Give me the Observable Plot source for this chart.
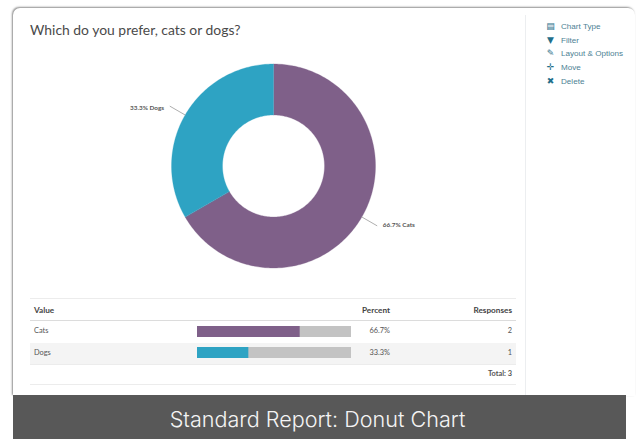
<!DOCTYPE html>
<html><head><meta charset="utf-8">
<script src="https://cdn.jsdelivr.net/npm/d3@7"></script>
<script src="https://cdn.jsdelivr.net/npm/@observablehq/plot@0.6"></script>
<style>
html,body{margin:0;padding:0;background:#fff;width:637px;height:439px;overflow:hidden;font-family:Lato,sans-serif}
.abs{position:absolute}
#card{left:13px;top:8px;width:622px;height:388px;border-radius:7px 7px 0 0;box-shadow:-1px -1px 2px #8f8f8f;background:#fff}
#title{left:30px;top:21px;font-size:13.9px;line-height:17px;color:#4a4a4a;white-space:nowrap}
#side{left:525px;top:15px;width:1px;height:380px;background:#eceef0}
.m{left:561px;font:8.1px/11px "Liberation Sans",Arial,sans-serif;color:#4d7f94;white-space:nowrap}
.i{left:546px;width:9px;text-align:center;font:bold 9px/11px "DejaVu Sans",sans-serif;color:#1f6f8b}
.t{font-size:7.4px;color:#555;white-space:nowrap;line-height:10px}
.h{font-size:8.2px;font-weight:700;color:#444}
.r{text-align:right}
.rule{left:30px;width:486px;height:1px;background:#ececec}
#row2{left:30px;top:343px;width:486px;height:21px;background:#f4f4f4}
#foot{left:13px;top:395px;width:613px;height:44px;background:#585858;color:#f4f4f4;font:21.6px/48px Inter,"Noto Sans",sans-serif;font-weight:300;text-align:center;text-indent:-4px}
</style></head><body>
<div id="card" class="abs"></div>
<div id="title" class="abs">Which do you prefer, cats or dogs?</div>
<div id="side" class="abs"></div>
<div class="abs i" style="top:21px">▤</div><div class="abs m" style="top:21px">Chart Type</div>
<div class="abs i" style="top:35px">▼</div><div class="abs m" style="top:35px">Filter</div>
<div class="abs i" style="top:48px">✎</div><div class="abs m" style="top:48px">Layout &amp; Options</div>
<div class="abs i" style="top:62px">✛</div><div class="abs m" style="top:62px">Move</div>
<div class="abs i" style="top:76px">✖</div><div class="abs m" style="top:76px">Delete</div>
<div class="abs rule" style="top:298px"></div>
<div class="abs rule" style="top:320px;background:#dcdcdc"></div>
<div id="row2" class="abs"></div>
<div class="abs rule" style="top:364px"></div>
<div class="abs rule" style="top:384px"></div>
<div class="abs t h" style="left:34px;top:305px">Value</div>
<div class="abs t h r" style="left:340px;width:50px;top:305px">Percent</div>
<div class="abs t h r" style="left:452px;width:60px;top:305px">Responses</div>
<div id="plots"></div>
<div class="abs t" style="left:34px;top:326px">Cats</div>
<div class="abs t" style="left:34px;top:348px">Dogs</div>
<div class="abs t r" style="left:340px;width:50px;top:326px">66.7%</div>
<div class="abs t r" style="left:340px;width:50px;top:348px">33.3%</div>
<div class="abs t r" style="left:452px;width:60px;top:326px">2</div>
<div class="abs t r" style="left:452px;width:60px;top:348px">1</div>
<div class="abs t r" style="left:452px;width:60px;top:369px;font-weight:700">Total: 3</div>
<div id="foot" class="abs">Standard Report: Donut Chart</div>
<script>
const categories = ["Cats", "Dogs"];
const responses = [2, 1];
const percents = ["66.7%", "33.3%"];
const colors = ["#7f6089", "#2ea3c3"];
const total = d3.sum(responses);

// donut: polar points in units of the outer radius
const pie = d3.pie().sort(null)(responses);
const ringPts = [];
pie.forEach((p, k) => {
  const n = Math.ceil((p.endAngle - p.startAngle) * 60);
  for (let i = 0; i <= n; i++) { const a = p.startAngle + (p.endAngle - p.startAngle) * i / n; ringPts.push({k, x: Math.sin(a), y: -Math.cos(a)}); }
  for (let i = n; i >= 0; i--) { const a = p.startAngle + (p.endAngle - p.startAngle) * i / n; ringPts.push({k, x: 0.5 * Math.sin(a), y: -0.5 * Math.cos(a)}); }
});
const mid = pie.map(p => (p.startAngle + p.endAngle) / 2);
const leaders = mid.flatMap((a, k) => [1, 1.17].map(r => ({k, x: r * Math.sin(a), y: -r * Math.cos(a)})));
const labels = mid.map((a, k) => ({x: 1.17 * Math.sin(a), y: -1.17 * Math.cos(a), text: percents[k] + " " + categories[k], side: Math.sin(a) > 0}));

const R = 102, cx = 273, cy = 165.5;
const donut = Plot.plot({
  width: 637, height: 295, margin: 0,
  style: {background: "transparent", position: "absolute", left: 0, top: 0},
  x: {axis: null, domain: [-cx / R, (637 - cx) / R]},
  y: {axis: null, domain: [(295 - cy) / R, -cy / R]},
  color: {type: "identity"},
  marks: [
    Plot.line(ringPts, {x: "x", y: "y", z: "k", fill: d => colors[d.k], stroke: d => colors[d.k], strokeWidth: 0.3, curve: "linear-closed"}),
    Plot.line(leaders, {x: "x", y: "y", z: "k", stroke: "#999", strokeWidth: 0.8}),
    Plot.text(labels.filter(d => d.side), {x: "x", y: "y", text: "text", textAnchor: "start", dx: 6, dy: -1, fontSize: 6.4, fontWeight: 700, fill: "#555", fontFamily: "Lato"}),
    Plot.text(labels.filter(d => !d.side), {x: "x", y: "y", text: "text", textAnchor: "end", dx: -6, dy: 2, fontSize: 6.4, fontWeight: 700, fill: "#555", fontFamily: "Lato"})
  ]
});

// table bars: grey track with the share on top
const rows = categories.map((c, k) => ({c, k, share: responses[k] / total}));
const bars = Plot.plot({
  width: 154, height: 34, margin: 0,
  style: {background: "transparent", position: "absolute", left: "197px", top: "326px"},
  x: {axis: null, domain: [0, 1]},
  y: {axis: null, domain: categories, padding: 0.4545, paddingOuter: 0, align: 0, range: [0, 34]},
  marks: [
    Plot.barX(rows, {x1: 0, x2: 1, y: "c", fill: "#c3c3c3"}),
    Plot.barX(rows, {x1: 0, x2: "share", y: "c", fill: d => colors[d.k]})
  ]
});
document.getElementById("plots").append(donut, bars);
</script>
</body></html>
